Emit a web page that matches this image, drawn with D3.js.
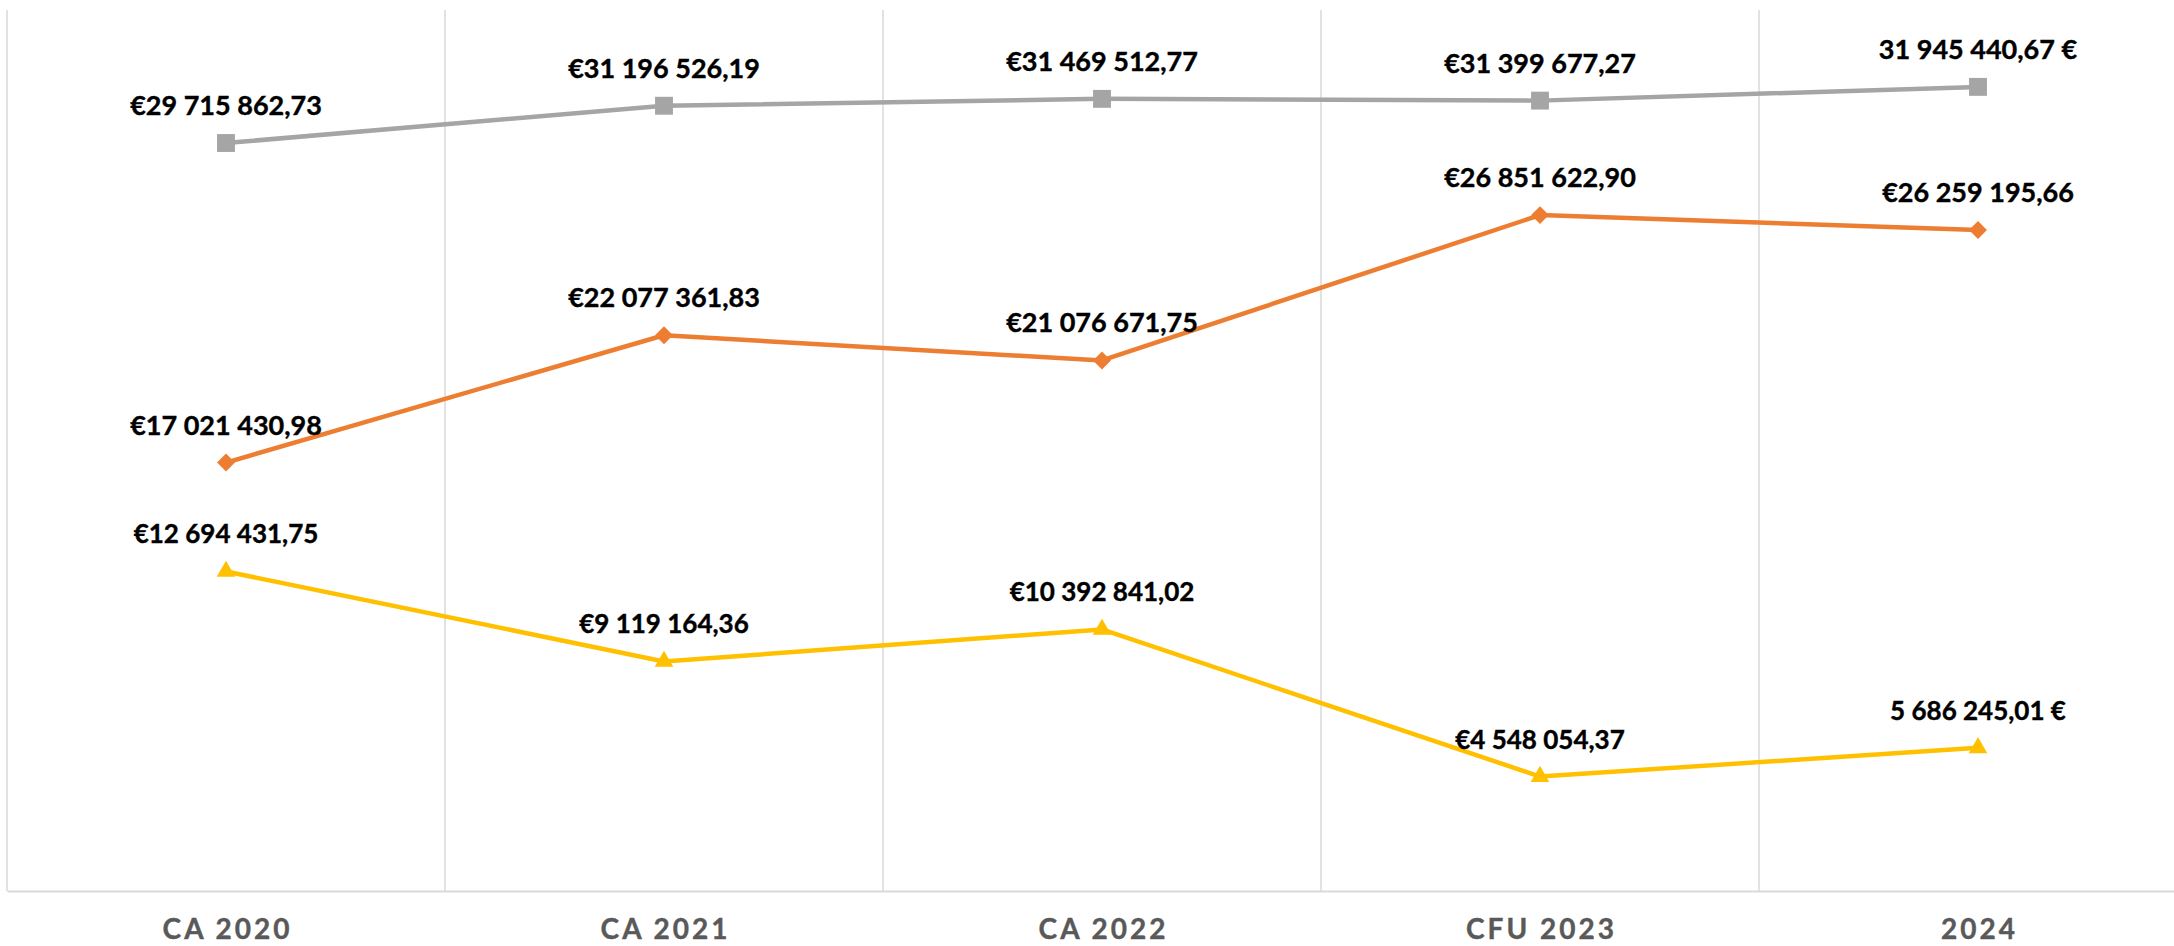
<!doctype html>
<html lang="fr">
<head>
  <meta charset="utf-8">
  <title>CA 2020 - 2024</title>
  <style>
    body { margin: 0; background: #fff; }
    svg { display: block; }
    .grid line { stroke: #d9d9d9; stroke-width: 1.5; }
    .x-axis .domain { stroke: #d9d9d9; stroke-width: 2; }
    .x-axis text {
      font-family: Lato, "Liberation Sans", sans-serif;
      font-weight: bold;
      font-size: 28px;
      letter-spacing: 3px;
      fill: #595959;
      stroke: #595959;
      stroke-width: 0.4px;
    }
    .serie path.line { fill: none; stroke-width: 4.5; stroke-linejoin: round; }
    .label {
      font-family: Lato, "Liberation Sans", sans-serif;
      font-weight: bold;
      fill: #000;
      stroke: #000;
      stroke-width: 0.4px;
      text-anchor: middle;
    }
  </style>
</head>

<body>
  <div id="chart"></div>

  <script src="https://cdn.jsdelivr.net/npm/d3@7"></script>

  <script>
  (function(){

    // categories on the x axis
    var categories = ["CA 2020", "CA 2021", "CA 2022", "CFU 2023", "2024"];

    // the three series, top to bottom
    var totalValues  = [29715862.73, 31196526.19, 31469512.77, 31399677.27, 31945440.67];
    var middleValues = [17021430.98, 22077361.83, 21076671.75, 26851622.90, 26259195.66];
    var lowerValues  = [12694431.75, 9119164.36, 10392841.02, 4548054.37, 5686245.01];

    // where the euro sign sits in each label ("pre" = €123, "post" = 123 €)
    var totalSign  = ["pre", "pre", "pre", "pre", "post"];
    var middleSign = ["pre", "pre", "pre", "pre", "pre"];
    var lowerSign  = ["pre", "pre", "pre", "pre", "post"];

    var yMax = 35000000;

    var width = 2174;
    var height = 946;
    var left = 7, top = 10, bottom = 891;
    // the plot area runs a bit past the right edge of the picture
    var right = 2197;

    var x = d3.scaleBand().domain(categories).range([left, right]);
    var y = d3.scaleLinear().domain([0, yMax]).range([bottom, top]);

    var locale = d3.formatLocale({decimal: ",", thousands: "\u00a0", grouping: [3], currency: ["€", ""]});
    var num = locale.format(",.2f");
    function euro(v, pos) {
      return pos === "post" ? num(v) + " €" : "€" + num(v);
    }

    var series = [
      {values: lowerValues,  signs: lowerSign,  color: "#ffc000", symbol: "triangle", fontSize: 26},
      {values: middleValues, signs: middleSign, color: "#ed7d31", symbol: "diamond",  fontSize: 27},
      {values: totalValues,  signs: totalSign,  color: "#a5a5a5", symbol: "square",   fontSize: 27}
    ];

    var svg = d3.select("#chart")
        .append("svg")
        .attr("width", width)
        .attr("height", height);

    svg.append("rect").attr("width", width).attr("height", height).attr("fill", "#fff");

    // vertical gridlines at the category boundaries
    svg.append("g").attr("class", "grid")
      .selectAll("line")
      .data(categories)
      .enter().append("line")
        .attr("x1", function(d){ return x(d); })
        .attr("x2", function(d){ return x(d); })
        .attr("y1", top)
        .attr("y2", bottom);

    // x axis, labels only
    var xAxis = svg.append("g")
        .attr("class", "x-axis")
        .attr("transform", "translate(0," + bottom + ")")
        .call(d3.axisBottom(x).tickSize(0).tickSizeOuter(0).tickPadding(28));
    xAxis.selectAll("text").attr("dx", "1.5px");

    var line = d3.line()
        .x(function(d, i){ return x(categories[i]) + x.bandwidth() / 2; })
        .y(function(d){ return y(d); });

    var symbols = {
      square: d3.symbol(d3.symbolSquare, 320),
      diamond: d3.symbol(d3.symbolSquare, 160),
      triangle: d3.symbol(d3.symbolTriangle, 150)
    };

    var g = svg.selectAll(".serie")
      .data(series)
      .enter().append("g")
        .attr("class", "serie");

    g.append("path")
      .attr("class", "line")
      .attr("stroke", function(d){ return d.color; })
      .attr("d", function(d){ return line(d.values); });

    g.each(function(s){
      d3.select(this).selectAll(".marker")
        .data(s.values)
        .enter().append("path")
          .attr("class", "marker")
          .attr("fill", s.color)
          .attr("d", symbols[s.symbol]())
          .attr("transform", function(d, i){
            var t = "translate(" + (x(categories[i]) + x.bandwidth() / 2) + "," + y(d) + ")";
            return s.symbol === "diamond" ? t + " rotate(45)" : t;
          });
    });

    // data labels on top of everything
    var labels = svg.append("g");
    series.forEach(function(s){
      labels.selectAll(null)
        .data(s.values)
        .enter().append("text")
          .attr("class", "label")
          .style("font-size", s.fontSize + "px")
          .attr("x", function(d, i){ return x(categories[i]) + x.bandwidth() / 2; })
          .attr("y", function(d){ return y(d) - 28; })
          .text(function(d, i){ return euro(d, s.signs[i]); });
    });

  })();
  </script>
</body>
</html>
